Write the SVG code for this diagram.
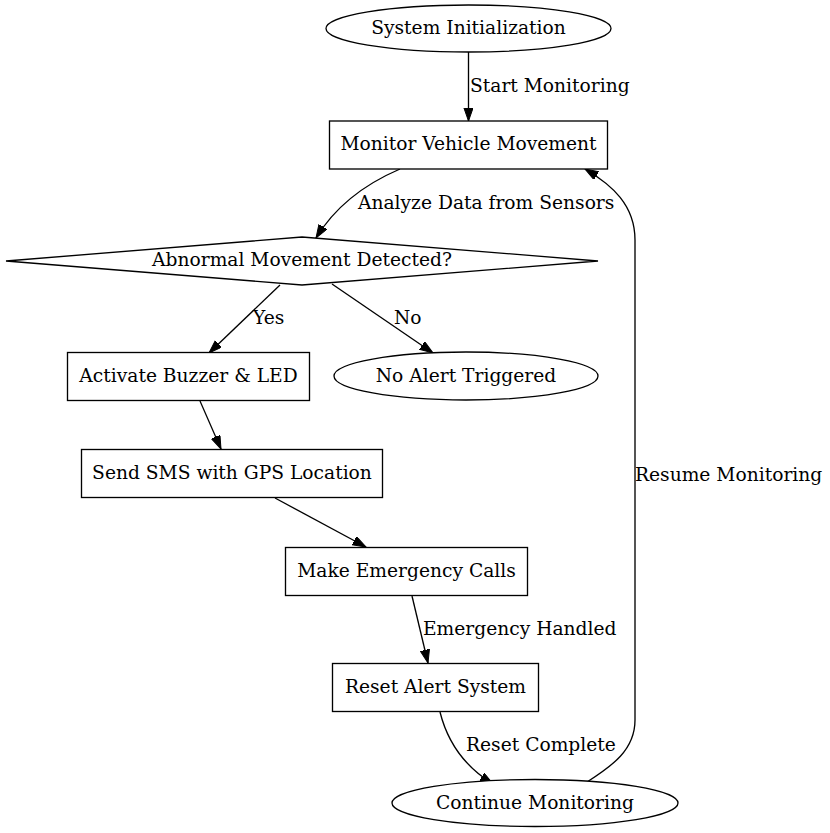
<svg xmlns="http://www.w3.org/2000/svg" width="830" height="833" viewBox="0 0 830 833">
  <style>
    .shape { fill: #ffffff; stroke: #000000; stroke-width: 1.33; }
    .label { font-family: "DejaVu Serif", "Liberation Serif", serif; font-size: 18.67px; fill: #000000; }
    .mid { text-anchor: middle; }
    .edge { fill: none; stroke: #000000; stroke-width: 1.33; marker-end: url(#arrow); }
  </style>
  <defs>
    <marker id="arrow" markerUnits="userSpaceOnUse" markerWidth="14" markerHeight="10" refX="13.3" refY="4.67" orient="auto">
      <path d="M0,0 L13.3,4.67 L0,9.33 Z" fill="#000000" stroke="#000000" stroke-width="1"/>
    </marker>
  </defs>
  <rect width="830" height="833" fill="#ffffff"/>

  <!-- connectors -->
  <g id="edges">
    <path class="edge" d="M468.5,52 L468.5,121"/>
    <text class="label" x="470" y="92">Start Monitoring</text>

    <path class="edge" d="M400,169 C372,181 338,202 316,238"/>
    <text class="label" x="358" y="209">Analyze Data from Sensors</text>

    <path class="edge" d="M280,285 L209,353"/>
    <text class="label" x="253" y="324">Yes</text>

    <path class="edge" d="M332,284 L433,353"/>
    <text class="label" x="394" y="324">No</text>

    <path class="edge" d="M200,401 L221,449"/>

    <path class="edge" d="M275,498 L366,547"/>

    <path class="edge" d="M412,596 L428,663"/>
    <text class="label" x="423" y="635">Emergency Handled</text>

    <path class="edge" d="M440,712 C447,740 462,765 493,784"/>
    <text class="label" x="466" y="751">Reset Complete</text>

    <path class="edge" d="M587,782 C612,766 635,750 635,720 L635,240 C635,205 612,185 585,169"/>
    <text class="label" x="635" y="481">Resume Monitoring</text>
  </g>

  <!-- nodes -->
  <g id="system_init">
    <ellipse class="shape" cx="468.5" cy="28.5" rx="142.5" ry="23.5"/>
    <text class="label mid" x="468.5" y="34">System Initialization</text>
  </g>
  <g id="monitor_movement">
    <rect class="shape" x="329.5" y="121" width="278" height="48"/>
    <text class="label mid" x="468.5" y="150">Monitor Vehicle Movement</text>
  </g>
  <g id="abnormal_check">
    <polygon class="shape" points="302,237 598,261 302,285 6,261"/>
    <text class="label mid" x="302" y="266">Abnormal Movement Detected?</text>
  </g>
  <g id="activate_buzzer">
    <rect class="shape" x="67.5" y="352.5" width="242" height="48"/>
    <text class="label mid" x="188.5" y="382">Activate Buzzer &amp; LED</text>
  </g>
  <g id="no_alert">
    <ellipse class="shape" cx="466" cy="376" rx="132" ry="24"/>
    <text class="label mid" x="466" y="382">No Alert Triggered</text>
  </g>
  <g id="send_sms">
    <rect class="shape" x="81.5" y="449.5" width="301" height="48"/>
    <text class="label mid" x="232" y="479">Send SMS with GPS Location</text>
  </g>
  <g id="emergency_calls">
    <rect class="shape" x="285.5" y="547.5" width="242" height="48"/>
    <text class="label mid" x="406.5" y="577">Make Emergency Calls</text>
  </g>
  <g id="reset_alert">
    <rect class="shape" x="332.5" y="663.5" width="206" height="48"/>
    <text class="label mid" x="435.5" y="693">Reset Alert System</text>
  </g>
  <g id="continue_monitoring">
    <ellipse class="shape" cx="535" cy="803" rx="143" ry="23.5"/>
    <text class="label mid" x="535" y="809">Continue Monitoring</text>
  </g>
</svg>
